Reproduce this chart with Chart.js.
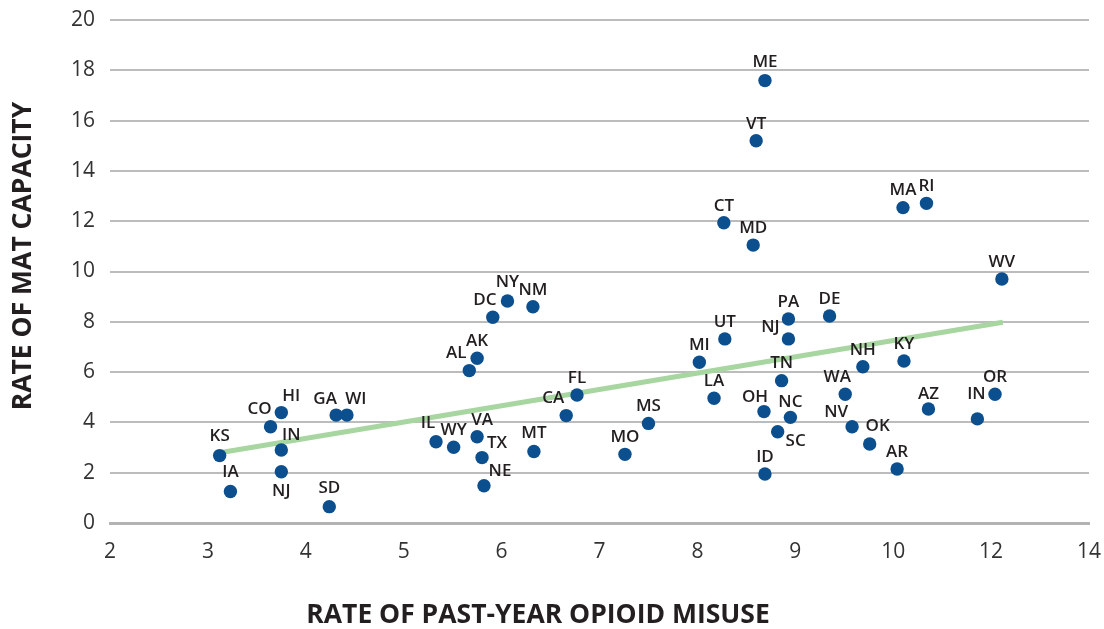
<!DOCTYPE html>
<html>
<head>
<meta charset="utf-8">
<script src="https://cdn.jsdelivr.net/npm/chart.js@4/dist/chart.umd.min.js"></script>
<style>
  body { margin: 0; background: #fff; }
  #wrap { width: 1104px; height: 629px; position: relative; }
</style>
</head>
<body>
<div id="wrap"><canvas id="scatterChart"></canvas></div>
<script>
// state codes, in the order the points are listed
const states = ['KS','IA','CO','HI','IN','NJ','GA','WI','SD','AL','AK','DC','NY','NM','IL','WY','VA','TX','NE','MT',
    'CA','FL','MO','MS','MI','UT','LA','CT','MD','VT','ME','PA','NJ','TN','OH','ID','NC','SC','DE','WA',
    'NV','NH','OK','AR','MA','KY','RI','AZ','IN','OR','WV'];

// x = position on the misuse axis (ticks are evenly spaced: 2..10, 12, 14)
const misuse = [3.12,3.23,3.64,3.75,3.75,3.75,4.31,4.42,4.24,5.67,5.75,5.91,6.06,6.32,5.33,5.51,5.75,5.80,5.82,6.33,
    6.66,6.77,7.26,7.50,8.02,8.28,8.17,8.27,8.57,8.60,8.69,8.93,8.93,8.86,8.68,8.69,8.95,8.82,9.35,9.51,
    9.58,9.69,9.76,10.04,10.10,10.11,10.34,10.36,10.86,11.04,11.11];

const matCapacity = [2.68,1.25,3.83,4.39,2.90,2.04,4.29,4.29,0.65,6.06,6.55,8.18,8.83,8.60,3.23,3.01,3.43,2.60,1.48,2.84,
    4.27,5.09,2.73,3.96,6.39,7.32,4.96,11.94,11.05,15.20,17.59,8.11,7.32,5.66,4.43,1.95,4.20,3.63,8.23,5.12,
    3.83,6.21,3.14,2.15,12.54,6.44,12.71,4.53,4.14,5.12,9.70];

// trend line end points
const trendX = [3.15, 11.12];
const trendY = [2.81, 7.98];

const xTickLabels = ['2','3','4','5','6','7','8','9','10','12','14'];
const yTickLabels = ['0','2','4','6','8','10','12','14','16','18','20'];

// label placement around each point (px), default is straight above
const labelShift = {
    0: [0, -19], 1: [0, -19], 2: [-11, -18], 3: [10, -16], 4: [10, -15], 5: [0, 19],
    6: [-11, -16], 7: [9, -16], 8: [0, -18], 9: [-13, -17], 11: [-8, -17], 12: [0, -19],
    14: [-8, -19], 16: [5, -17], 17: [15, -14], 18: [16, -15], 19: [0, -18], 20: [-13, -17],
    30: [0, -18], 32: [-18, -12], 34: [-9, -14], 36: [0, -15], 37: [18, 9], 39: [-8, -17],
    40: [-16, -15], 42: [8, -18], 47: [0, -15], 48: [-1, -25]
};

const pointLabels = {
    id: 'pointLabels',
    afterDatasetsDraw(chart) {
        const ctx = chart.ctx;
        const meta = chart.getDatasetMeta(1);
        ctx.save();
        ctx.font = '600 17px "Open Sans"';
        ctx.fillStyle = '#231f20';
        ctx.textAlign = 'center';
        ctx.textBaseline = 'middle';
        meta.data.forEach((pt, i) => {
            const s = labelShift[i] || [0, -17];
            ctx.fillText(states[i], pt.x + s[0], pt.y + s[1]);
        });
        ctx.restore();
    }
};

const axisTitles = {
    id: 'axisTitles',
    afterDraw(chart) {
        const ctx = chart.ctx;
        ctx.save();
        ctx.font = 'bold 26.5px "Open Sans"';
        ctx.fillStyle = '#231f20';
        ctx.textAlign = 'center';
        ctx.textBaseline = 'middle';
        ctx.fillText('RATE OF PAST-YEAR OPIOID MISUSE', 538, 615);
        ctx.translate(23, 256);
        ctx.rotate(-Math.PI / 2);
        ctx.fillText('RATE OF MAT CAPACITY', 0, 0);
        ctx.restore();
    }
};

const ctx = document.getElementById('scatterChart').getContext('2d');

new Chart(ctx, {
    type: 'scatter',
    data: {
        datasets: [{
            type: 'line',
            data: trendX.map((x, i) => ({ x: x, y: trendY[i] })),
            borderColor: '#a8d6a1',
            borderWidth: 5,
            pointRadius: 0,
            fill: false,
            order: 2
        }, {
            data: misuse.map((x, i) => ({ x: x, y: matCapacity[i] })),
            backgroundColor: '#0b4f8f',
            borderWidth: 0,
            pointRadius: 6.7,
            order: 1
        }]
    },
    options: {
        responsive: true,
        maintainAspectRatio: false,
        animation: false,
        layout: { padding: { left: 0, top: 20, right: 15, bottom: 0 } },
        plugins: {
            legend: { display: false },
            tooltip: { enabled: false }
        },
        scales: {
            x: {
                type: 'linear',
                min: 2,
                max: 12,
                afterFit: (scale) => { scale.height = 106; },
                grid: { display: false, tickLength: 16 },
                border: { display: true, color: '#b3b3b3', width: 3 },
                ticks: {
                    stepSize: 1,
                    padding: 0,
                    color: '#333',
                    font: { family: 'Open Sans', size: 21 },
                    callback: (v, i) => xTickLabels[i]
                }
            },
            y: {
                min: 0,
                max: 20,
                afterFit: (scale) => { scale.width = 110; },
                grid: { color: '#bcbcbc', lineWidth: 2, tickLength: 15, tickColor: 'rgba(0,0,0,0)' },
                border: { display: false },
                ticks: {
                    stepSize: 2,
                    padding: 0,
                    color: '#333',
                    font: { family: 'Open Sans', size: 21 },
                    callback: (v, i) => yTickLabels[i]
                }
            }
        }
    },
    plugins: [pointLabels, axisTitles]
});
</script>
</body>
</html>
